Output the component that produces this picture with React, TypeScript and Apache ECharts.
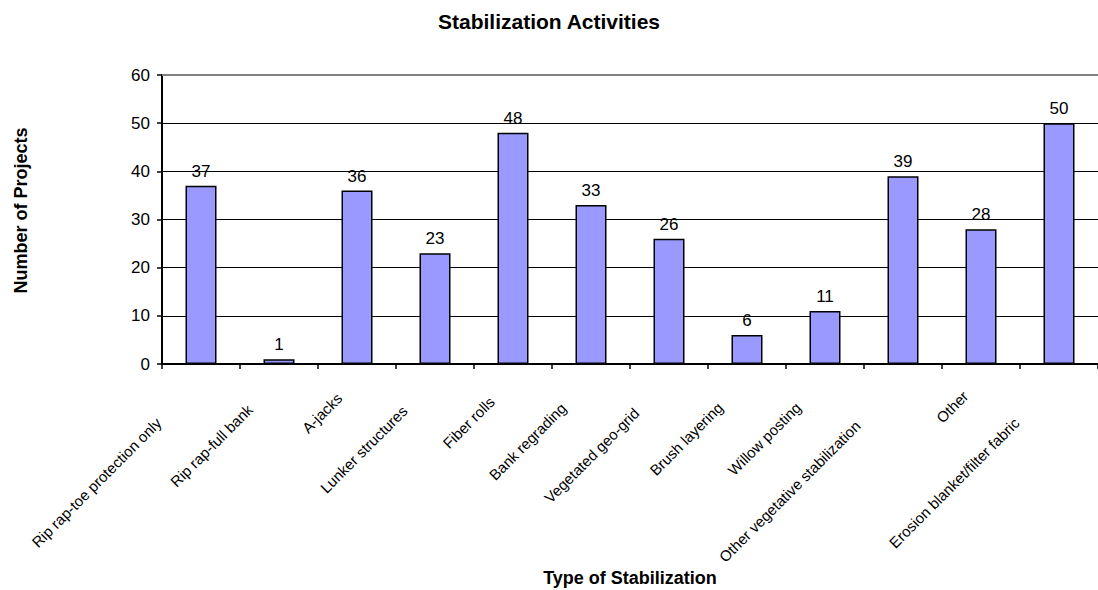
import React, { useEffect, useRef } from "react";
import * as echarts from "echarts";

const categories: string[] = [
  "Rip rap-toe protection only",
  "Rip rap-full bank",
  "A-jacks",
  "Lunker structures",
  "Fiber rolls",
  "Bank regrading",
  "Vegetated geo-grid",
  "Brush layering",
  "Willow posting",
  "Other vegetative stabilization",
  "Other",
  "Erosion blanket/filter fabric",
];

const projectCounts: number[] = [37, 1, 36, 23, 48, 33, 26, 6, 11, 39, 28, 50];

const chartTitle = "Stabilization Activities";
const xAxisTitle = "Type of Stabilization";
const yAxisTitle = "Number of Projects";
const yMin = 0;
const yMax = 60;
const yStep = 10;

const FONT = "Arial, 'Liberation Sans', sans-serif";
const LABEL_SIZE = 15;

function measure(text: string, font: string): number {
  try {
    const c = document.createElement("canvas");
    const ctx = c.getContext("2d");
    if (!ctx) return text.length * 7;
    ctx.font = font;
    return ctx.measureText(text).width;
  } catch (e) {
    return text.length * 7;
  }
}

export default function App() {
  const ref = useRef<HTMLDivElement>(null);

  useEffect(() => {
    if (!ref.current) return;
    const chart = echarts.init(ref.current, undefined, { renderer: "svg" });

    const rich: Record<string, any> = {};
    categories.forEach((c, i) => {
      const w = measure(c, `${LABEL_SIZE}px ${FONT}`);
      rich[`l${i}`] = {
        fontSize: LABEL_SIZE,
        fontFamily: FONT,
        color: "#000",
        padding: [0, Math.round(12 + 0.27 * w), 0, 0],
      };
    });

    chart.setOption({
      animation: false,
      backgroundColor: "#fff",
      title: {
        text: chartTitle,
        left: "center",
        top: 6,
        textStyle: { fontSize: 21, fontWeight: "bold", fontFamily: FONT, color: "#000" },
      },
      grid: { left: 162, top: 75, bottom: 226, right: -10, containLabel: false },
      xAxis: {
        type: "category",
        data: categories,
        name: xAxisTitle,
        nameLocation: "middle",
        nameGap: 205,
        nameTextStyle: { fontSize: 18, fontWeight: "bold", fontFamily: FONT, color: "#000" },
        axisLine: { show: true, lineStyle: { color: "#000", width: 2 } },
        axisTick: { show: true, length: 5, lineStyle: { color: "#000", width: 1.5 } },
        axisLabel: {
          interval: 0,
          rotate: 45,
          margin: 14,
          fontSize: LABEL_SIZE,
          fontFamily: FONT,
          color: "#000",
          formatter: (v: string) => {
            const i = categories.indexOf(v);
            return `{l${i}|${v}}`;
          },
          rich,
        },
        splitLine: { show: false },
      },
      yAxis: {
        type: "value",
        min: yMin,
        max: yMax,
        interval: yStep,
        name: yAxisTitle,
        nameLocation: "middle",
        nameGap: 132,
        nameRotate: 90,
        nameTextStyle: {
          fontSize: 18,
          fontWeight: "bold",
          fontFamily: FONT,
          color: "#000",
          padding: [0, 0, 0, 18],
        },
        axisLine: { show: true, lineStyle: { color: "#000", width: 2 } },
        axisTick: { show: true, length: 5, lineStyle: { color: "#000", width: 1.5 } },
        axisLabel: { margin: 12, fontSize: 17, fontFamily: FONT, color: "#000" },
        splitLine: { show: true, lineStyle: { color: "#000", width: 1 } },
      },
      series: [
        {
          type: "bar",
          data: projectCounts,
          barWidth: 31,
          itemStyle: { color: "#9999FF", borderColor: "#000", borderWidth: 1.5 },
          label: {
            show: true,
            position: "top",
            distance: 6,
            fontSize: 17,
            fontFamily: FONT,
            color: "#000",
          },
          markLine: {
            silent: true,
            symbol: "none",
            label: { show: false },
            lineStyle: { color: "#808080", width: 2, type: "solid" },
            data: [{ yAxis: yMax }],
          },
        },
      ],
    });

    return () => chart.dispose();
  }, []);

  return (
    <div
      ref={ref}
      style={{ position: "fixed", left: 0, top: 0, width: 1098, height: 590 }}
    />
  );
}
